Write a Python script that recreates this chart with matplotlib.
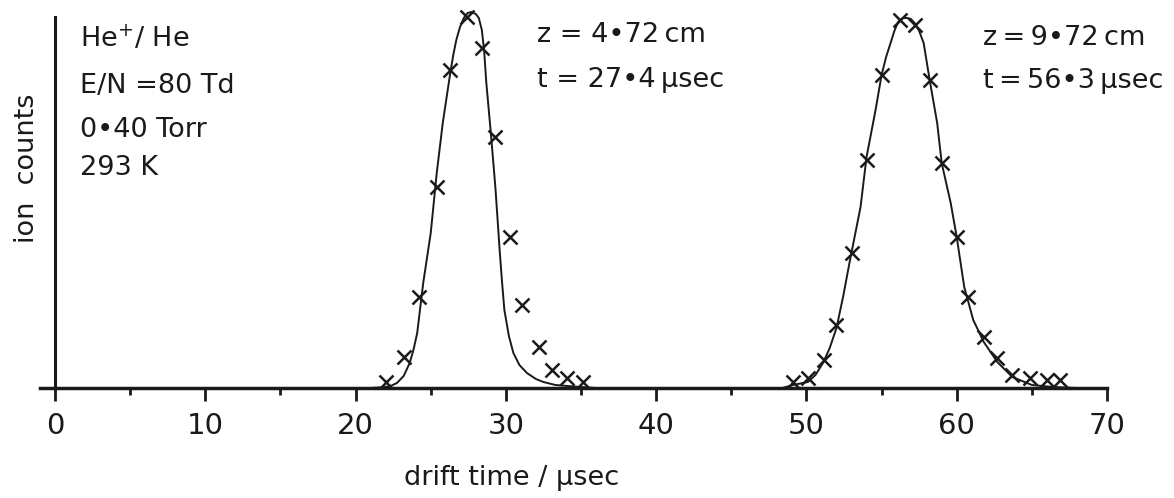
import matplotlib
matplotlib.use('Agg')
import matplotlib.pyplot as plt
from matplotlib.ticker import MultipleLocator

plt.rcParams['font.family'] = ['DejaVu Sans']

# Datos (cuentas en unidades arbitrarias)
# Pico 1: z = 4.72 cm
t1_pts = [22.0, 23.2, 24.2, 25.4, 26.3, 27.4, 28.4, 29.3, 30.3, 31.1, 32.2, 33.1, 34.1, 35.1]
c1_pts = [6, 31, 91, 201, 318, 371, 340, 251, 151, 83, 41, 18, 10, 6]
# curva ajustada del pico 1
t1_fit = [20.0, 21.0, 21.5, 22.0, 22.4, 22.75, 23.2, 23.6, 23.85, 24.1, 24.3, 24.5, 24.75,
          25.0, 25.2, 25.4, 25.6, 25.8, 26.05, 26.3, 26.5, 26.7, 26.95, 27.2, 27.45, 27.7,
          28.0, 28.2, 28.4, 28.55, 28.7, 28.85, 29.0, 29.15, 29.3, 29.45, 29.6, 29.75, 29.9,
          30.2, 30.5, 30.9, 31.4, 32.0, 32.5, 33.3, 34.1, 35.0, 36.0]
c1_fit = [0, 0, 0.5, 1, 2.5, 5, 12, 25, 38, 55, 80, 105, 130,
          155, 185, 215, 240, 265, 290, 315, 333, 348, 361, 370, 375, 376,
          374, 370, 358, 338, 305, 280, 255, 228, 201, 168, 135, 105, 78,
          52, 35, 23, 15, 9, 6, 3, 2, 1, 0]

# Pico 2: z = 9.72 cm
t2_pts = [49.1, 50.1, 51.2, 52.0, 53.0, 54.0, 55.0, 56.2, 57.2, 58.2, 59.0, 60.0, 60.75,
          61.8, 62.7, 63.7, 64.9, 66.0, 66.9]
c2_pts = [6, 10, 28, 63, 135, 228, 313, 368, 363, 308, 225, 151, 91, 51, 30, 13, 10, 8, 8]
# curva ajustada del pico 2
t2_fit = [47.0, 48.4, 49.1, 50.1, 50.6, 51.1, 51.55, 52.0, 52.45, 52.9, 53.6, 54.0, 54.6,
          55.0, 55.3, 55.6, 55.85, 56.1, 56.4, 56.7, 56.95, 57.2, 57.5, 57.8, 58.2, 58.7,
          59.0, 59.6, 60.0, 60.5, 61.1, 61.8, 62.7, 63.7, 65.0, 66.4, 68.0]
c2_fit = [0, 0, 3, 6, 13, 25, 40, 60, 92, 128, 181, 231, 278,
          313, 331, 345, 357, 366, 370, 370, 369, 365, 357, 345, 308, 265,
          225, 185, 151, 101, 68, 46, 26, 11, 3, 1, 0]

x_ticks = [0, 10, 20, 30, 40, 50, 60, 70]

W, H = 1174, 498
fig = plt.figure(figsize=(W / 100, H / 100), dpi=100)
ax = fig.add_axes([40 / W, 110 / H, 1067 / W, 378 / H])

ink = '#1a1a1a'
ax.plot(t1_fit, c1_fit, color=ink, lw=1.4)
ax.plot(t2_fit, c2_fit, color=ink, lw=1.4)
ax.plot(t1_pts, c1_pts, 'x', color=ink, ms=10, mew=1.8)
ax.plot(t2_pts, c2_pts, 'x', color=ink, ms=10, mew=1.8)

ax.set_xlim(-1, 70)
ax.set_ylim(0, 378)

for s in ['top', 'right']:
    ax.spines[s].set_visible(False)
ax.spines['left'].set_position(('data', 0))
ax.spines['left'].set_bounds(0, 371)
ax.spines['left'].set_linewidth(2.2)
ax.spines['bottom'].set_linewidth(2.5)
ax.spines['left'].set_color(ink)
ax.spines['bottom'].set_color(ink)

ax.set_yticks([])
ax.set_xticks(x_ticks)
ax.xaxis.set_minor_locator(MultipleLocator(5))
ax.tick_params(axis='x', which='major', length=9, width=2, pad=8,
               labelsize=21, colors=ink)
ax.tick_params(axis='x', which='minor', length=5, width=2, colors=ink)

fs = 19.5
ts = '\u2009'  # espacio fino
fig.text(512 / W, 1 - 485 / H, 'drift time / µsec', ha='center', va='baseline',
         fontsize=fs, color=ink)
fig.text(27 / W, 1 - 168 / H, 'ion  counts', rotation=90, ha='center', va='center',
         fontsize=fs, color=ink)

info = [r'He$^\mathregular{+}$/ He', 'E/N =80 Td', '0•40 Torr', '293 K']
baselines = [47, 93, 137, 175]
for txt, yb in zip(info, baselines):
    fig.text(80 / W, 1 - yb / H, txt, ha='left', va='baseline', fontsize=fs, color=ink)

labels = [
    (537, 42, 'z = 4•72' + ts + 'cm'),
    (537, 87, 't = 27•4' + ts + 'µsec'),
    (983, 45, 'z' + ts + '=' + ts + '9•72' + ts + 'cm'),
    (983, 88, 't' + ts + '=' + ts + '56•3' + ts + 'µsec'),
]
for xp, yb, txt in labels:
    fig.text(xp / W, 1 - yb / H, txt, ha='left', va='baseline', fontsize=fs, color=ink)

fig.savefig('out.png', dpi=100)
